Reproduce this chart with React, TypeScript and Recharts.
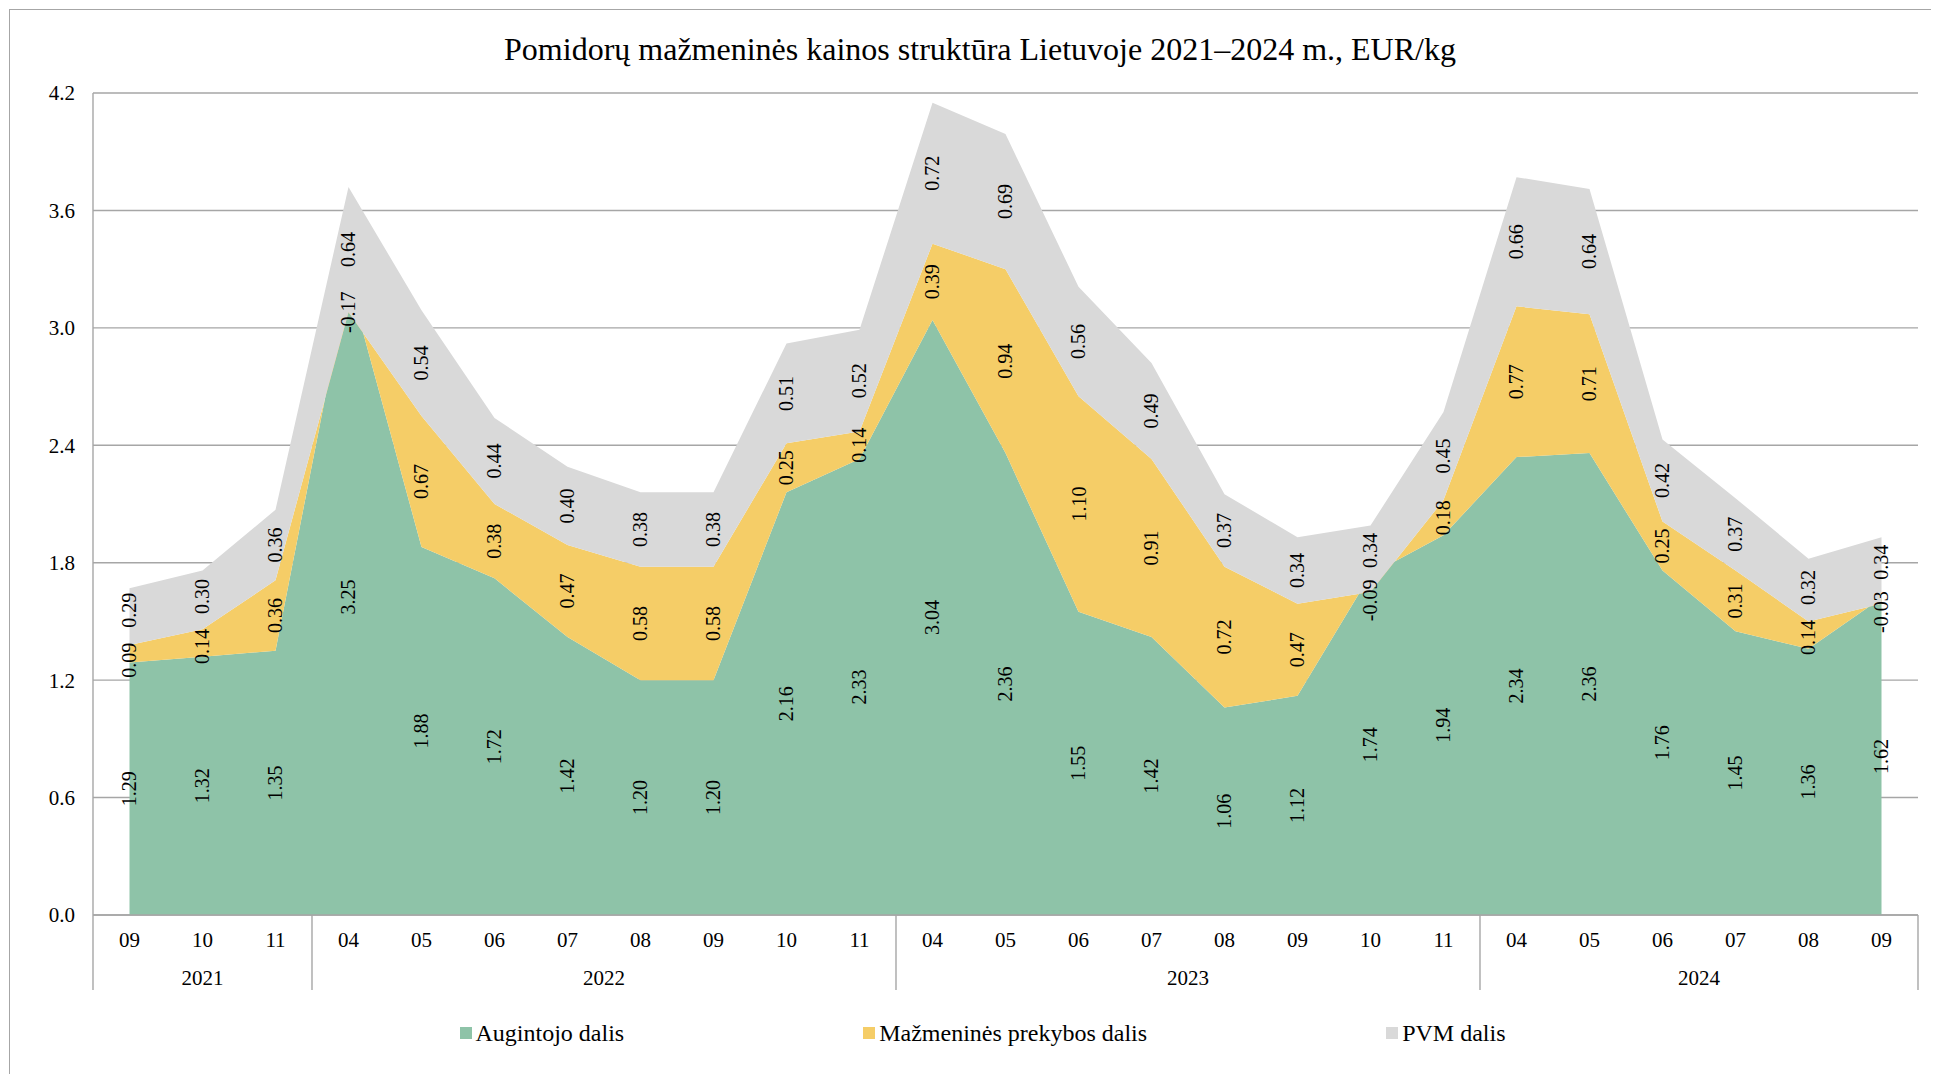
import React from 'react';
import {
  AreaChart,
  Area,
  Line,
  XAxis,
  YAxis,
  CartesianGrid,
  Legend,
  LabelList
} from 'recharts';

// Monthly tomato retail price breakdown, EUR/kg
const months = [
  '09', '10', '11',
  '04', '05', '06', '07', '08', '09', '10', '11',
  '04', '05', '06', '07', '08', '09', '10', '11',
  '04', '05', '06', '07', '08', '09'
];
const years = ['2021', '2022', '2023', '2024'];
const monthsPerYear = [3, 8, 8, 6];

const grower = [
  1.29, 1.32, 1.35,
  3.25, 1.88, 1.72, 1.42, 1.20, 1.20, 2.16, 2.33,
  3.04, 2.36, 1.55, 1.42, 1.06, 1.12, 1.74, 1.94,
  2.34, 2.36, 1.76, 1.45, 1.36, 1.62
];
const retail = [
  0.09, 0.14, 0.36,
  -0.17, 0.67, 0.38, 0.47, 0.58, 0.58, 0.25, 0.14,
  0.39, 0.94, 1.10, 0.91, 0.72, 0.47, -0.09, 0.18,
  0.77, 0.71, 0.25, 0.31, 0.14, -0.03
];
const vat = [
  0.29, 0.30, 0.36,
  0.64, 0.54, 0.44, 0.40, 0.38, 0.38, 0.51, 0.52,
  0.72, 0.69, 0.56, 0.49, 0.37, 0.34, 0.34, 0.45,
  0.66, 0.64, 0.42, 0.37, 0.32, 0.34
];
const yTicks = [0, 0.6, 1.2, 1.8, 2.4, 3.0, 3.6, 4.2];

const series = [
  { key: 'grower', name: 'Augintojo dalis', color: '#8EC3A8' },
  { key: 'retail', name: 'Mažmeninės prekybos dalis', color: '#F5CD67' },
  { key: 'vat', name: 'PVM dalis', color: '#D9D9D9' }
];

const FONT = '"Liberation Serif", "Times New Roman", serif';
const LINE = '#A6A6A6';
const MONTH_AXIS_H = 30;
const YEAR_AXIS_H = 68;
const LEGEND_H = 40;
const CHART_W = 1929;
const CHART_H = 1064;
const MARGIN = { top: 83, right: 21, bottom: 21, left: 23 };
const Y_AXIS_W = 60;
const PLOT_W = CHART_W - MARGIN.left - MARGIN.right - Y_AXIS_W;
const PLOT_H = CHART_H - MARGIN.top - MARGIN.bottom - LEGEND_H - MONTH_AXIS_H - YEAR_AXIS_H;
const Y_MAX = 4.2;
const BAND = PLOT_W / months.length;
// minimum distance between two stacked labels, in axis units
const MIN_SEP = 50 / (PLOT_H / Y_MAX);

// label anchors: middle of each layer, pushed apart where two labels collide
const data = months.map((month, i) => {
  const g = grower[i];
  const r = retail[i];
  const p = vat[i];
  let rMid = r >= 0 ? g + r / 2 : g + r;
  let pMid = g + r + p / 2;
  const gap = pMid - rMid;
  if (gap < MIN_SEP) {
    const push = (MIN_SEP - gap) / 2;
    rMid -= push;
    pMid += push;
  }
  return {
    month,
    grower: g,
    retail: r,
    vat: p,
    growerMid: g / 2,
    retailMid: rMid,
    vatMid: pMid
  };
});

// first category index of every year group
const groupStart: number[] = [];
monthsPerYear.reduce((start, n) => {
  groupStart.push(start);
  return start + n;
}, 0);

const makeLabel = (values: number[]) => (props: any) => {
  const x = props.x ?? props.viewBox?.x;
  const y = props.y ?? props.viewBox?.y;
  const v = values[props.index];
  if (x == null || y == null || v == null) return null;
  return (
    <text
      x={x}
      y={y}
      transform={`rotate(-90 ${x} ${y})`}
      textAnchor="middle"
      dominantBaseline="central"
      fontSize={20}
      fontFamily={FONT}
      fill="#000"
    >
      {v.toFixed(2)}
    </text>
  );
};

// second tier of the category axis: year names and group separators
const YearTick = (props: any) => {
  const { x, y, index } = props;
  const gi = groupStart.indexOf(index);
  const isLast = index === months.length - 1;
  if (gi < 0 && !isLast) return <g />;
  const top = y - MONTH_AXIS_H;
  const bottom = y + 45;
  return (
    <g>
      {gi >= 0 && (
        <>
          <line x1={x - BAND / 2} x2={x - BAND / 2} y1={top} y2={bottom} stroke={LINE} strokeWidth={1.4} />
          <text
            x={x + ((monthsPerYear[gi] - 1) / 2) * BAND}
            y={y + 40}
            textAnchor="middle"
            fontSize={21}
            fontFamily={FONT}
            fill="#000"
          >
            {years[gi]}
          </text>
        </>
      )}
      {isLast && (
        <line x1={x + BAND / 2} x2={x + BAND / 2} y1={top} y2={bottom} stroke={LINE} strokeWidth={1.4} />
      )}
    </g>
  );
};

const LegendContent = () => (
  <div
    style={{
      display: 'flex',
      justifyContent: 'center',
      alignItems: 'center',
      gap: 239,
      height: LEGEND_H,
      paddingLeft: 14,
      fontFamily: FONT,
      fontSize: 24,
      color: '#000'
    }}
  >
    {series.map((s) => (
      <div key={s.key} style={{ display: 'flex', alignItems: 'center' }}>
        <span style={{ width: 12, height: 12, background: s.color, marginRight: 4 }} />
        <span style={{ lineHeight: `${LEGEND_H}px` }}>{s.name}</span>
      </div>
    ))}
  </div>
);

const labelLines = [
  { key: 'growerMid', values: grower },
  { key: 'retailMid', values: retail },
  { key: 'vatMid', values: vat }
];

const App: React.FC = () => {
  return (
    <div
      style={{
        position: 'relative',
        marginLeft: 1,
        marginTop: 1,
        width: 1960,
        height: 1100,
        borderLeft: `1px solid ${LINE}`,
        borderTop: `1px solid ${LINE}`,
        fontFamily: FONT,
        background: '#fff'
      }}
    >
      <div
        style={{
          position: 'absolute',
          left: 0,
          top: 23,
          width: 1940,
          textAlign: 'center',
          fontSize: 32,
          lineHeight: '32px',
          color: '#000'
        }}
      >
        Pomidorų mažmeninės kainos struktūra Lietuvoje 2021–2024 m., EUR/kg
      </div>
      <AreaChart width={CHART_W} height={CHART_H} data={data} margin={MARGIN}>
        <CartesianGrid vertical={false} stroke={LINE} strokeWidth={1.4} />
        <XAxis
          dataKey="month"
          interval={0}
          height={MONTH_AXIS_H}
          padding={{ left: BAND / 2, right: BAND / 2 }}
          tickLine={false}
          tickSize={0}
          tickMargin={17}
          axisLine={{ stroke: LINE, strokeWidth: 1.4 }}
          tick={{ fontSize: 21, fill: '#000', fontFamily: FONT }}
        />
        <XAxis
          xAxisId="yr"
          dataKey="month"
          interval={0}
          height={YEAR_AXIS_H}
          padding={{ left: BAND / 2, right: BAND / 2 }}
          tickLine={false}
          tickSize={0}
          tickMargin={0}
          axisLine={false}
          tick={<YearTick />}
        />
        <YAxis
          domain={[0, Y_MAX]}
          ticks={yTicks}
          allowDataOverflow
          width={Y_AXIS_W}
          tickLine={false}
          tickSize={0}
          tickMargin={18}
          axisLine={{ stroke: LINE, strokeWidth: 1.4 }}
          tickFormatter={(v: number) => v.toFixed(1)}
          tick={{ fontSize: 21, fill: '#000', fontFamily: FONT }}
        />
        {series.map((s) => (
          <Area
            key={s.key}
            type="linear"
            dataKey={s.key}
            name={s.name}
            stackId="price"
            stroke="none"
            fill={s.color}
            fillOpacity={1}
            isAnimationActive={false}
          />
        ))}
        {labelLines.map((l) => (
          <Line
            key={l.key}
            dataKey={l.key}
            stroke="none"
            dot={false}
            activeDot={false}
            legendType="none"
            isAnimationActive={false}
          >
            <LabelList content={makeLabel(l.values)} />
          </Line>
        ))}
        <Legend verticalAlign="bottom" height={LEGEND_H} content={<LegendContent />} />
      </AreaChart>
    </div>
  );
};

export default App;
